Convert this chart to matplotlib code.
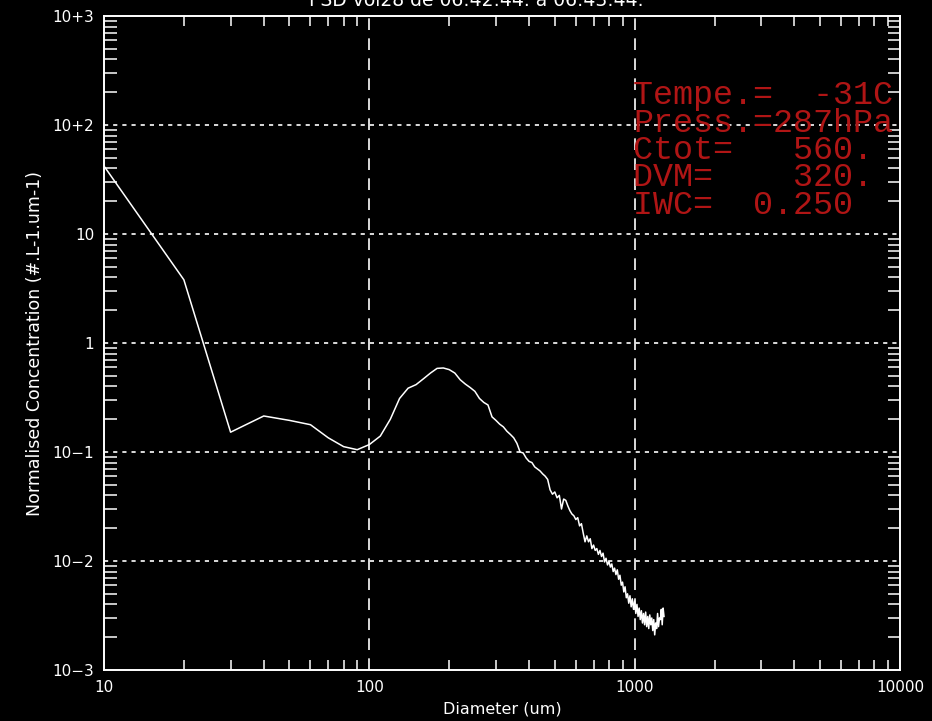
import matplotlib
matplotlib.use("Agg")
import matplotlib.pyplot as plt
from matplotlib.ticker import FixedLocator, LogLocator, NullFormatter

# Particle size distribution: diameter (um) vs normalised concentration (#/L/um)
diameter = [10, 20, 30, 40, 50, 60, 70, 80, 90,
            100, 110, 120, 130, 140, 150, 160, 170, 180, 190,
            200, 210, 220, 230, 240, 250, 260, 270, 280, 290,
            300, 310, 320, 330, 340, 350, 360, 370, 380, 390,
            400, 410, 420, 430, 440, 450, 460, 470, 480, 490,
            500, 510, 520, 530, 540, 550, 560, 570, 580, 590,
            600, 610, 620, 630, 640, 650, 660, 670, 680, 690,
            700, 710, 720, 730, 740, 750, 760, 770, 780, 790,
            800, 810, 820, 830, 840, 850, 860, 870, 880, 890,
            900, 910, 920, 930, 940, 950, 960, 970, 980, 990,
            1000, 1010, 1020, 1030, 1040, 1050, 1060, 1070, 1080, 1090,
            1100, 1110, 1120, 1130, 1140, 1150, 1160, 1170, 1180, 1190,
            1200, 1210, 1220, 1230, 1240, 1250, 1260, 1270, 1280, 1290]
concentration = [42.0, 3.8, 0.152, 0.214, 0.195, 0.178, 0.135, 0.112, 0.105,
                 0.117, 0.140, 0.200, 0.310, 0.385, 0.415, 0.470, 0.530, 0.585, 0.590,
                 0.570, 0.530, 0.460, 0.420, 0.390, 0.360, 0.310, 0.285, 0.270, 0.210,
                 0.195, 0.180, 0.170, 0.155, 0.145, 0.135, 0.120, 0.100, 0.098, 0.088,
                 0.082, 0.080, 0.073, 0.070, 0.067, 0.063, 0.060, 0.056, 0.045, 0.041,
                 0.043, 0.038, 0.040, 0.030, 0.037, 0.036, 0.032, 0.029, 0.027, 0.026,
                 0.024, 0.025, 0.021, 0.022, 0.018, 0.015, 0.017, 0.015, 0.016, 0.013,
                 0.014, 0.0125, 0.013, 0.0115, 0.0125, 0.011, 0.0118, 0.0098, 0.0106, 0.0092,
                 0.0099, 0.0088, 0.0094, 0.0080, 0.0086, 0.0075, 0.0083, 0.0068, 0.0074, 0.0060,
                 0.0064, 0.0052, 0.0058, 0.0046, 0.0050, 0.0041, 0.0048, 0.0038, 0.0045, 0.0036,
                 0.0043, 0.0033, 0.0040, 0.0031, 0.0037, 0.0029, 0.0035, 0.0027, 0.0033, 0.0026,
                 0.0034, 0.0025, 0.0031, 0.0024, 0.0032, 0.0026, 0.0030, 0.0023, 0.0029, 0.0021,
                 0.0027, 0.0024, 0.0033, 0.0025, 0.0030, 0.0029, 0.0036, 0.0026, 0.0037, 0.0031]

x_ticks = [10, 100, 1000, 10000]
x_tick_labels = ["10", "100", "1000", "10000"]
y_ticks = [1e-3, 1e-2, 1e-1, 1, 10, 1e2, 1e3]
y_tick_labels = ["10\u22123", "10\u22122", "10\u22121", "1", "10", "10+2", "10+3"]

title = "PSD vol28 de 06:42:44. a 06:43:44."
info_lines = ["Tempe.=  -31C", "Press.=287hPa", "Ctot=   560.", "DVM=    320.", "IWC=  0.250"]

fg = "white"
red = "#b01515"

fig = plt.figure(figsize=(9.32, 7.21), dpi=100, facecolor="black")
ax = fig.add_axes([104 / 932, 51 / 721, 796 / 932, 654 / 721], facecolor="black")

ax.plot(diameter, concentration, color=fg, lw=1.1)

ax.set_xscale("log")
ax.set_yscale("log")
ax.set_xlim(10, 10000)
ax.set_ylim(1e-3, 1e3)

# decade grid: dashed verticals, dotted horizontals
for xv in x_ticks[1:-1]:
    ax.axvline(xv, color=fg, lw=1.2, ls=(0, (7, 5)))
for yv in y_ticks[1:-1]:
    ax.axhline(yv, color=fg, lw=1.2, ls=(0, (2.5, 3)))

ax.xaxis.set_major_locator(FixedLocator(x_ticks))
ax.set_xticklabels(x_tick_labels)
ax.yaxis.set_major_locator(FixedLocator(y_ticks))
ax.set_yticklabels(y_tick_labels)
ax.xaxis.set_minor_locator(LogLocator(base=10, subs=range(2, 10)))
ax.yaxis.set_minor_locator(LogLocator(base=10, subs=range(2, 10), numticks=20))
ax.xaxis.set_minor_formatter(NullFormatter())
ax.yaxis.set_minor_formatter(NullFormatter())

ax.tick_params(which="both", direction="in", colors=fg, top=True, right=True,
               labelsize=11, width=1.1)
ax.tick_params(which="major", length=0, pad=7)
ax.tick_params(axis="x", which="minor", length=7.5)
ax.tick_params(axis="y", which="minor", length=9)

for s in ax.spines.values():
    s.set_color(fg)
    s.set_linewidth(1.4)

ax.set_xlabel("Diameter (um)", color=fg, fontsize=11.5, labelpad=5)
ax.set_ylabel("Normalised Concentration (#.L-1.um-1)", color=fg, fontsize=12.5, labelpad=6)

fig.text(476 / 932, 1 - 1 / 721, title, color=fg, fontsize=13.5, ha="center", va="center")

for i, line in enumerate(info_lines):
    fig.text(633 / 932, 1 - (104 + 27.5 * i) / 721, line, color=red,
             fontsize=24, family="Liberation Mono", ha="left", va="baseline")

fig.savefig("out.png", dpi=100, facecolor="black")
